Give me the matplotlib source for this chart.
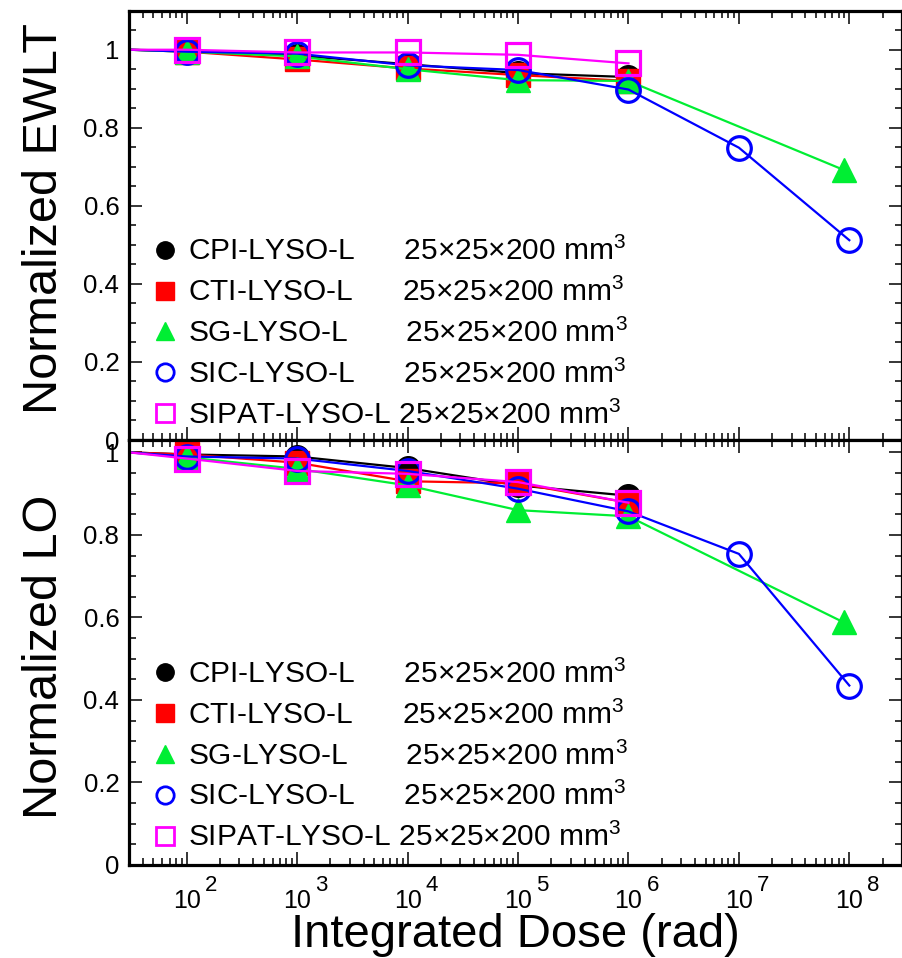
import numpy as np
import matplotlib
matplotlib.use('Agg')
import matplotlib.pyplot as plt
import matplotlib.transforms as mtransforms
from matplotlib.lines import Line2D
from matplotlib.ticker import LogLocator, MultipleLocator, NullFormatter, FormatStrFormatter

plt.rcParams['font.family'] = ['Liberation Sans', 'DejaVu Sans']
plt.rcParams['mathtext.fontset'] = 'custom'
plt.rcParams['mathtext.rm'] = 'Liberation Sans'
plt.rcParams['mathtext.it'] = 'Liberation Sans'

# data: first point (30 rad, 1.0) is the unirradiated reference drawn without marker
dose5 = [30, 1e2, 1e3, 1e4, 1e5, 1e6]
dose_sg = [30, 1e2, 1e3, 1e4, 1e5, 1e6, 8.9e7]
dose_sic = [30, 1e2, 1e3, 1e4, 1e5, 1e6, 1e7, 1e8]

ewlt_cpi = [1.0, 0.997, 0.985, 0.963, 0.940, 0.930]
ewlt_cti = [1.0, 0.995, 0.975, 0.952, 0.935, 0.920]
ewlt_sg = [1.0, 0.995, 0.983, 0.950, 0.922, 0.920, 0.692]
ewlt_sic = [1.0, 0.995, 0.990, 0.960, 0.948, 0.898, 0.749, 0.512]
ewlt_sipat = [1.0, 1.0, 0.993, 0.993, 0.987, 0.965]

lo_cpi = [1.0, 0.995, 0.990, 0.962, 0.920, 0.895]
lo_cti = [1.0, 0.995, 0.975, 0.930, 0.925, 0.878]
lo_sg = [1.0, 0.988, 0.960, 0.920, 0.860, 0.845, 0.588]
lo_sic = [1.0, 0.990, 0.985, 0.955, 0.912, 0.857, 0.754, 0.435]
lo_sipat = [1.0, 0.985, 0.955, 0.948, 0.928, 0.878]

names = ['CPI-LYSO-L', 'CTI-LYSO-L', 'SG-LYSO-L', 'SIC-LYSO-L', 'SIPAT-LYSO-L']
pads = [6, 6, 7, 6, 1]
size_txt = '25\u00d725\u00d7200 mm$^3$'
decades = [2, 3, 4, 5, 6, 7, 8]

colors = ['black', '#ff0000', '#00ee33', '#0000ff', '#ff00ff']
markers = ['o', 's', '^', 'o', 's']
filled = [True, True, True, False, False]

fig = plt.figure(figsize=(9.03, 9.58), dpi=100)
W, H = 903.0, 958.0
L, R = 129, 902
ax1 = fig.add_axes([L / W, 1 - 440 / H, (R - L) / W, (440 - 10.7) / H])
ax2 = fig.add_axes([L / W, 1 - 865 / H, (R - L) / W, (865 - 440) / H], sharex=ax1)

series_top = [(dose5, ewlt_cpi), (dose5, ewlt_cti), (dose_sg, ewlt_sg), (dose_sic, ewlt_sic), (dose5, ewlt_sipat)]
series_bot = [(dose5, lo_cpi), (dose5, lo_cti), (dose_sg, lo_sg), (dose_sic, lo_sic), (dose5, lo_sipat)]

for ax, series, ytop in [(ax1, series_top, 1.1), (ax2, series_bot, 1.03)]:
    for (x, y), c, m, f in zip(series, colors, markers, filled):
        ax.plot(x, y, color=c, lw=1.6, marker=m, markersize=17,
                markerfacecolor=c if f else 'none', markeredgecolor=c,
                markeredgewidth=2.3 if not f else 1.0, markevery=slice(1, None))
    ax.set_xscale('log')
    ax.set_xlim(30, 3e8)
    ax.set_ylim(0, ytop)
    ax.xaxis.set_major_locator(LogLocator(base=10, numticks=20))
    ax.xaxis.set_minor_locator(LogLocator(base=10, subs=np.arange(2, 10), numticks=20))
    ax.xaxis.set_major_formatter(NullFormatter())
    ax.xaxis.set_minor_formatter(NullFormatter())
    ax.yaxis.set_major_locator(MultipleLocator(0.2))
    ax.yaxis.set_minor_locator(MultipleLocator(0.05))
    ax.yaxis.set_major_formatter(FormatStrFormatter('%g'))
    ax.tick_params(which='both', direction='in', top=True, right=True, width=1.1)
    ax.tick_params(which='major', length=9.5)
    ax.tick_params(which='minor', length=5)
    ax.tick_params(axis='y', labelsize=18.5, pad=7)
    for s in ax.spines.values():
        s.set_linewidth(2.3)

    handles = [Line2D([], [], linestyle='none', marker=m, markersize=12.5, color=c,
                      markerfacecolor=c if f else 'none', markeredgewidth=2.0 if not f else 1.0)
               for c, m, f in zip(colors, markers, filled)]
    labels = [n + ' ' * p + size_txt for n, p in zip(names, pads)]
    yanchor = 0.473 if ax is ax1 else 0.483
    ax.legend(handles, labels, loc='upper left', bbox_to_anchor=(0.027, yanchor),
              frameon=False, fontsize=21.5, handlelength=1.0, handletextpad=0.27,
              labelspacing=0.39, borderpad=0, borderaxespad=0)

ax1.set_ylabel('Normalized EWLT', fontsize=35)
ax1.yaxis.set_label_coords(-0.080, 0.515)
ax2.set_ylabel('Normalized LO', fontsize=35)
ax2.yaxis.set_label_coords(-0.080, 0.49)

# x tick labels written as 10 with a raised exponent
trans = mtransforms.blended_transform_factory(ax2.transData, ax2.transAxes)
for k in decades:
    ax2.text(10.0 ** k, -0.101, '10', transform=trans, ha='center', va='baseline', fontsize=18)
    t_exp = mtransforms.offset_copy(trans, fig=fig, x=18, y=17, units='dots')
    ax2.text(10.0 ** k, -0.101, str(k), transform=t_exp, ha='left', va='baseline', fontsize=16)

ax2.set_xlabel('Integrated Dose (rad)', fontsize=34)
ax2.xaxis.set_label_coords(0.5, -0.112)

fig.savefig('out.png', dpi=100)
